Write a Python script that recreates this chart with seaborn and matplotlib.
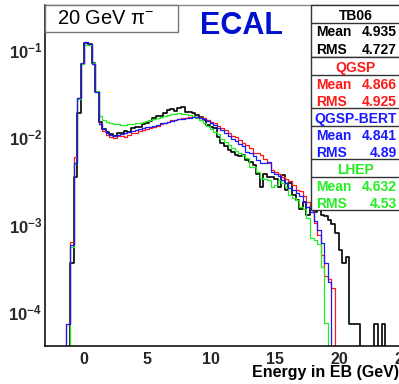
import numpy as np
import pandas as pd
import matplotlib
matplotlib.use("Agg")
import matplotlib.pyplot as plt
import seaborn as sns
from matplotlib.ticker import FixedLocator, MultipleLocator, LogLocator, NullFormatter, FuncFormatter
from matplotlib.patches import Rectangle

# ---------------- data ----------------
E_MIN, E_MAX, N_BINS = -3.0, 25.0, 100

tb06 = [0, 0, 0, 0, 0, 0, 0,
        3.6e-4, 3.5e-3, 0.019, 0.068, 0.118, 0.117, 0.070, 0.033,
        0.0150, 0.0125, 0.0115, 0.0107, 0.0103, 0.0112, 0.0110, 0.0118, 0.0115, 0.0126,
        0.0129, 0.0131, 0.0141, 0.0143, 0.0154, 0.0163, 0.0174, 0.0174, 0.0190, 0.0204,
        0.0207, 0.0200, 0.0213, 0.0218, 0.0195, 0.0195, 0.0190, 0.0179, 0.0171, 0.0156,
        0.0137, 0.0131, 0.0126, 0.0101, 0.0085, 0.0078, 0.0071, 0.0068, 0.0062, 0.0060,
        0.0062, 0.0054, 0.0052, 0.0048, 0.0038, 0.0027, 0.0038, 0.0035, 0.0035, 0.0033,
        0.0027, 0.0037, 0.0025, 0.0030, 0.0022, 0.0019, 0.0015, 0.0018, 0.0013, 0.0016,
        0.0014, 0.0015, 0.0013, 0.00125, 0.00113, 0.0010, 0.00079, 0.00051, 0.00036, 0.00043,
        7.3e-5, 7.3e-5, 7.3e-5, 0, 0, 0, 0, 7.3e-5, 0, 7.3e-5,
        0, 0, 0, 0, 0]

qgsp = [0, 0, 0, 0, 0, 0,
        7.3e-5, 6.3e-4, 5.9e-3, 0.028, 0.071, 0.123, 0.117, 0.069, 0.033,
        0.0140, 0.0118, 0.0106, 0.0099, 0.0097, 0.0102, 0.0104, 0.0101, 0.0106, 0.0110,
        0.0112, 0.0117, 0.0120, 0.0124, 0.0128, 0.0131, 0.0135, 0.0142, 0.0144, 0.0150,
        0.0156, 0.0158, 0.0161, 0.0164, 0.0166, 0.0170, 0.0174, 0.0171, 0.0168, 0.0163,
        0.0158, 0.0150, 0.0143, 0.0135, 0.0126, 0.0120, 0.0110, 0.0104, 0.0100, 0.0092,
        0.0085, 0.0080, 0.0075, 0.0066, 0.0065, 0.0062, 0.0056, 0.0050, 0.0042, 0.0040,
        0.0038, 0.0035, 0.0033, 0.0031, 0.0028, 0.0025, 0.0024, 0.0021, 0.0018, 0.0015,
        0.00105, 0.00075, 0.00045, 0.00026, 0.00024, 0.00019, 0, 0, 0, 0,
        0, 0, 0, 0, 0, 0, 0, 0, 0, 0, 0, 0, 0, 0, 0]

qgsp_bert = [0, 0, 0, 0, 0, 0,
             7.3e-5, 5.8e-4, 5.0e-3, 0.028, 0.070, 0.121, 0.116, 0.069, 0.033,
             0.0140, 0.0123, 0.0112, 0.0106, 0.0104, 0.0106, 0.0108, 0.0110, 0.0114, 0.0116,
             0.0119, 0.0122, 0.0126, 0.0129, 0.0131, 0.0134, 0.0138, 0.0143, 0.0146, 0.0150,
             0.0154, 0.0156, 0.0159, 0.0161, 0.0164, 0.0167, 0.0170, 0.0169, 0.0166, 0.0160,
             0.0152, 0.0146, 0.0138, 0.0128, 0.0120, 0.0112, 0.0104, 0.0096, 0.0090, 0.0084,
             0.0078, 0.0068, 0.0065, 0.0060, 0.0054, 0.0050, 0.0050, 0.0052, 0.0040, 0.0038,
             0.0036, 0.0032, 0.0030, 0.0026, 0.0025, 0.0023, 0.0021, 0.0018, 0.0016, 0.0014,
             0.0011, 0.00087, 0.00061, 0.00036, 0.00022, 0, 0, 0, 0, 0,
             0, 0, 0, 0, 0, 0, 0, 0, 0, 0, 0, 0, 0, 0, 0]

lhep = [0, 0, 0, 0, 0, 0, 0,
        5.5e-4, 5.0e-3, 0.027, 0.069, 0.112, 0.114, 0.070, 0.034,
        0.0172, 0.0158, 0.0150, 0.0145, 0.0140, 0.0139, 0.0138, 0.0137, 0.0139, 0.0141,
        0.0143, 0.0146, 0.0148, 0.0152, 0.0155, 0.0160, 0.0165, 0.0170, 0.0176, 0.0180,
        0.0184, 0.0185, 0.0187, 0.0184, 0.0183, 0.0178, 0.0172, 0.0163, 0.0155, 0.0143,
        0.0132, 0.0125, 0.0115, 0.0108, 0.0095, 0.0088, 0.0080, 0.0074, 0.0069, 0.0065,
        0.0062, 0.0057, 0.0046, 0.0046, 0.0040, 0.0034, 0.0033, 0.0032, 0.0027, 0.0028,
        0.0032, 0.0030, 0.0027, 0.0022, 0.0020, 0.0019, 0.0016, 0.0015, 0.0012, 0.0007,
        0.00066, 0.0006, 0.00033, 7.4e-5, 0, 0, 0, 0, 0, 0,
        0, 0, 0, 0, 0, 0, 0, 0, 0, 0, 0, 0, 0, 0, 0]

series_names = ["TB06", "QGSP", "QGSP-BERT", "LHEP"]
series_means = ["4.935", "4.866", "4.841", "4.632"]
series_rms = ["4.727", "4.925", "4.89", "4.53"]
x_ticks = [0, 5, 10, 15, 20, 25]
y_ticks = [1e-4, 1e-3, 1e-2, 1e-1]

for s in (tb06, qgsp, qgsp_bert, lhep):
    assert len(s) == N_BINS

edges = np.linspace(E_MIN, E_MAX, N_BINS + 1)
centers = 0.5 * (edges[:-1] + edges[1:])
data_map = {"TB06": tb06, "QGSP": qgsp, "QGSP-BERT": qgsp_bert, "LHEP": lhep}
df = pd.concat([pd.DataFrame({"E": centers, "w": np.asarray(data_map[n], float), "model": n})
                for n in series_names], ignore_index=True)

# ---------------- style ----------------
sns.set_theme(style="white")
plt.rcParams["font.family"] = ["Liberation Sans", "DejaVu Sans"]
plt.rcParams["mathtext.fontset"] = "custom"
plt.rcParams["mathtext.rm"] = "Liberation Sans"
plt.rcParams["mathtext.it"] = "Liberation Sans"
plt.rcParams["mathtext.bf"] = "Liberation Sans:bold"

W, H = 399, 384
fig = plt.figure(figsize=(W / 100, H / 100), dpi=100)
fig.patch.set_facecolor("white")

ax_l, ax_r, ax_t, ax_b = 45, 403, 5, 346
ax = fig.add_axes([ax_l / W, 1 - ax_b / H, (ax_r - ax_l) / W, (ax_b - ax_t) / H])

colors = {"TB06": "black", "QGSP": "#ff1a1a", "QGSP-BERT": "#1a1aff", "LHEP": "#22ee22"}
widths = {"TB06": 1.2, "QGSP": 0.9, "QGSP-BERT": 0.9, "LHEP": 0.9}

for name in ["TB06", "QGSP", "LHEP", "QGSP-BERT"]:
    sub = df[df["model"] == name]
    sns.histplot(data=sub, x="E", weights="w", bins=list(edges), element="step",
                 fill=False, color=colors[name], linewidth=widths[name], ax=ax)

ax.set_yscale("log")
ax.set_xlim(E_MIN, E_MAX)
ax.set_ylim(4.08e-5, 0.323)
ax.set_xlabel("")
ax.set_ylabel("")

ax.xaxis.set_major_locator(FixedLocator(x_ticks))
ax.xaxis.set_minor_locator(MultipleLocator(1))
ax.yaxis.set_major_locator(FixedLocator(y_ticks))
ax.yaxis.set_major_formatter(FuncFormatter(lambda v, p: r"$\mathbf{10^{%d}}$" % round(np.log10(v))))
ax.yaxis.set_minor_locator(LogLocator(base=10, subs=np.arange(2, 10), numticks=20))
ax.yaxis.set_minor_formatter(NullFormatter())

ax.tick_params(axis="both", which="both", direction="in", top=False, right=False,
               color="black", width=0.9)
ax.tick_params(axis="x", which="major", length=6.5, pad=4, labelsize=11.5)
ax.tick_params(axis="x", which="minor", length=3.5)
ax.tick_params(axis="y", which="major", length=6.5, pad=2, labelsize=12)
ax.tick_params(axis="y", which="minor", length=3.5)
for lab in ax.get_xticklabels():
    lab.set_fontweight("bold")

for side in ("left", "bottom"):
    ax.spines[side].set_color("black")
    ax.spines[side].set_linewidth(1.1)
ax.spines["top"].set_color("#888888")
ax.spines["top"].set_linewidth(1.0)
ax.spines["right"].set_color("black")

# ---------------- annotation overlay (pixel coordinates) ----------------
ov = fig.add_axes([0, 0, 1, 1])
ov.set_xlim(0, W)
ov.set_ylim(H, 0)
ov.axis("off")
ov.patch.set_visible(False)

# title box
ov.add_patch(Rectangle((45, 5), 133, 26.5, facecolor="white", edgecolor="#777777", lw=1.0))
ov.text(106, 18.5, "20 GeV π$^{-}$", ha="center", va="center", fontsize=14.5, color="black")

# ECAL
ov.text(200, 26.5, "ECAL", ha="left", va="center", fontsize=22, fontweight="bold", color="#0010d0")

# stats box
bx0, bx1 = 311, 402
group_tops = [5, 57.3, 108.3, 159.3]
group_h = 51.5
for i, name in enumerate(series_names):
    top = group_tops[i]
    c = colors[name]
    ov.add_patch(Rectangle((bx0, top), bx1 - bx0, group_h if i < 3 else 51,
                           facecolor="white", edgecolor="#333333", lw=1.0))
    ov.plot([bx0, bx1], [top + 18, top + 18], color="#333333", lw=1.0)
    ov.text(356, top + 10.5, name, ha="center", va="center", fontsize=10,
            fontweight="bold", color=c)
    ov.text(316, top + 27.5, "Mean", ha="left", va="center", fontsize=10,
            fontweight="bold", color=c)
    ov.text(397, top + 27.5, series_means[i], ha="right", va="center", fontsize=10,
            fontweight="bold", color=c)
    ov.text(316, top + 44.5, "RMS", ha="left", va="center", fontsize=10,
            fontweight="bold", color=c)
    ov.text(397, top + 44.5, series_rms[i], ha="right", va="center", fontsize=10,
            fontweight="bold", color=c)

# x title
ov.text(399, 373, "Energy in EB (GeV)", ha="right", va="center", fontsize=11.5,
        fontweight="bold", color="black")

fig.savefig("out.png", dpi=100, facecolor="white")
